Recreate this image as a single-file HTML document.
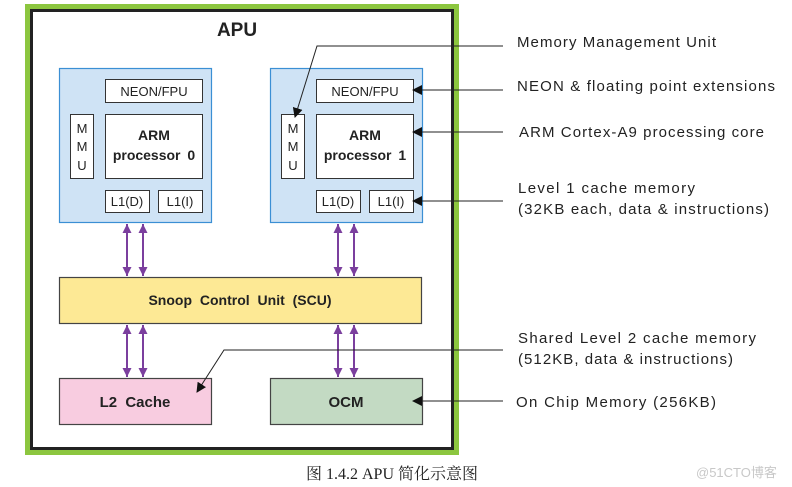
<!DOCTYPE html>
<html><head><meta charset="utf-8"><style>
html,body{margin:0;padding:0;background:#fff;width:792px;height:487px;overflow:hidden}
svg text{font-family:"Liberation Sans",Arial,sans-serif}
</style></head><body>
<svg width="792" height="487" viewBox="0 0 792 487" xmlns="http://www.w3.org/2000/svg">
<defs>
<marker id="ah" viewBox="0 0 10 10" refX="9" refY="5" markerWidth="10" markerHeight="10" markerUnits="userSpaceOnUse" orient="auto">
<path d="M0,0 L10,5 L0,10 z" fill="#111"/></marker>
<marker id="pa" viewBox="0 0 10 10" refX="10" refY="5" markerWidth="9" markerHeight="11" markerUnits="userSpaceOnUse" orient="auto-start-reverse">
<path d="M0,0 L10,5 L0,10 z" fill="#7b3f9e"/></marker>
</defs>
<rect x="27.5" y="6.5" width="429" height="446" fill="none" stroke="#8cc63f" stroke-width="5"/>
<rect x="31.5" y="10.5" width="421" height="438" fill="#fff" stroke="#222" stroke-width="3"/>
<text x="237" y="36" font-size="19" font-weight="bold" text-anchor="middle" fill="#222">APU</text>

<rect x="59.5" y="68.5" width="152" height="154" fill="#cfe3f5" stroke="#3b8fd4" stroke-width="1.2"/>
<rect x="105.5" y="79.5" width="97" height="23" fill="#fff" stroke="#333"/>
<text x="154" y="96" font-size="13" text-anchor="middle" fill="#222">NEON/FPU</text>
<rect x="70.5" y="114.5" width="23" height="64" fill="#fff" stroke="#333"/>
<text x="82" y="133" font-size="13" text-anchor="middle" fill="#222">M</text>
<text x="82" y="151" font-size="13" text-anchor="middle" fill="#222">M</text>
<text x="82" y="170" font-size="13" text-anchor="middle" fill="#222">U</text>
<rect x="105.5" y="114.5" width="97" height="64" fill="#fff" stroke="#333"/>
<text x="154" y="140" font-size="14" font-weight="bold" text-anchor="middle" fill="#222">ARM</text>
<text x="154" y="160" font-size="14" font-weight="bold" text-anchor="middle" fill="#222" word-spacing="3">processor 0</text>
<rect x="105.5" y="190.5" width="44" height="22" fill="#fff" stroke="#333"/>
<text x="127" y="206" font-size="13" text-anchor="middle" fill="#222">L1(D)</text>
<rect x="158.5" y="190.5" width="44" height="22" fill="#fff" stroke="#333"/>
<text x="180" y="206" font-size="13" text-anchor="middle" fill="#222">L1(I)</text>

<rect x="270.5" y="68.5" width="152" height="154" fill="#cfe3f5" stroke="#3b8fd4" stroke-width="1.2"/>
<rect x="316.5" y="79.5" width="97" height="23" fill="#fff" stroke="#333"/>
<text x="365" y="96" font-size="13" text-anchor="middle" fill="#222">NEON/FPU</text>
<rect x="281.5" y="114.5" width="23" height="64" fill="#fff" stroke="#333"/>
<text x="293" y="133" font-size="13" text-anchor="middle" fill="#222">M</text>
<text x="293" y="151" font-size="13" text-anchor="middle" fill="#222">M</text>
<text x="293" y="170" font-size="13" text-anchor="middle" fill="#222">U</text>
<rect x="316.5" y="114.5" width="97" height="64" fill="#fff" stroke="#333"/>
<text x="365" y="140" font-size="14" font-weight="bold" text-anchor="middle" fill="#222">ARM</text>
<text x="365" y="160" font-size="14" font-weight="bold" text-anchor="middle" fill="#222" word-spacing="3">processor 1</text>
<rect x="316.5" y="190.5" width="44" height="22" fill="#fff" stroke="#333"/>
<text x="338" y="206" font-size="13" text-anchor="middle" fill="#222">L1(D)</text>
<rect x="369.5" y="190.5" width="44" height="22" fill="#fff" stroke="#333"/>
<text x="391" y="206" font-size="13" text-anchor="middle" fill="#222">L1(I)</text>

<rect x="59.5" y="277.5" width="362" height="46" fill="#fde995" stroke="#444" stroke-width="1.2"/>
<text x="240" y="305" font-size="14" font-weight="bold" text-anchor="middle" fill="#222" word-spacing="4">Snoop Control Unit (SCU)</text>
<rect x="59.5" y="378.5" width="152" height="46" fill="#f8cce0" stroke="#444" stroke-width="1.2"/>
<text x="135" y="407" font-size="15" font-weight="bold" text-anchor="middle" fill="#222" word-spacing="4">L2 Cache</text>
<rect x="270.5" y="378.5" width="152" height="46" fill="#c3dac3" stroke="#444" stroke-width="1.2"/>
<text x="346" y="407" font-size="15" font-weight="bold" text-anchor="middle" fill="#222">OCM</text>

<g stroke="#7b3f9e" stroke-width="2" fill="none">
<line x1="127" y1="224" x2="127" y2="276" marker-start="url(#pa)" marker-end="url(#pa)"/>
<line x1="143" y1="224" x2="143" y2="276" marker-start="url(#pa)" marker-end="url(#pa)"/>
<line x1="338" y1="224" x2="338" y2="276" marker-start="url(#pa)" marker-end="url(#pa)"/>
<line x1="354" y1="224" x2="354" y2="276" marker-start="url(#pa)" marker-end="url(#pa)"/>
<line x1="127" y1="325" x2="127" y2="377" marker-start="url(#pa)" marker-end="url(#pa)"/>
<line x1="143" y1="325" x2="143" y2="377" marker-start="url(#pa)" marker-end="url(#pa)"/>
<line x1="338" y1="325" x2="338" y2="377" marker-start="url(#pa)" marker-end="url(#pa)"/>
<line x1="354" y1="325" x2="354" y2="377" marker-start="url(#pa)" marker-end="url(#pa)"/>
</g>

<g stroke="#222" stroke-width="1" fill="none">
<polyline points="503,46 317,46 295,117" marker-end="url(#ah)"/>
<line x1="503" y1="90" x2="413" y2="90" marker-end="url(#ah)"/>
<line x1="503" y1="132" x2="413" y2="132" marker-end="url(#ah)"/>
<line x1="503" y1="201" x2="413" y2="201" marker-end="url(#ah)"/>
<polyline points="503,350 224,350 197,392" marker-end="url(#ah)"/>
<line x1="503" y1="401" x2="413" y2="401" marker-end="url(#ah)"/>
</g>

<g font-size="15" fill="#222">
<text x="517" y="47" textLength="199" lengthAdjust="spacing">Memory Management Unit</text>
<text x="517" y="91" textLength="258" lengthAdjust="spacing">NEON &amp; floating point extensions</text>
<text x="519" y="137" textLength="245" lengthAdjust="spacing">ARM Cortex-A9 processing core</text>
<text x="518" y="193" textLength="177" lengthAdjust="spacing">Level 1 cache memory</text>
<text x="518" y="214" textLength="251" lengthAdjust="spacing">(32KB each, data &amp; instructions)</text>
<text x="518" y="343" textLength="238" lengthAdjust="spacing">Shared Level 2 cache memory</text>
<text x="518" y="364" textLength="215" lengthAdjust="spacing">(512KB, data &amp; instructions)</text>
<text x="516" y="407" textLength="200" lengthAdjust="spacing">On Chip Memory (256KB)</text>
</g>

<text x="306" y="479" font-size="16" fill="#222" style="font-family:'Liberation Serif','Noto Serif CJK SC',serif">图 1.4.2 APU 简化示意图</text>
<text x="696" y="477" font-size="13" fill="#c8c8c8" style="font-family:'Liberation Sans','Noto Sans CJK SC',sans-serif">@51CTO博客</text>
</svg>
</body></html>
